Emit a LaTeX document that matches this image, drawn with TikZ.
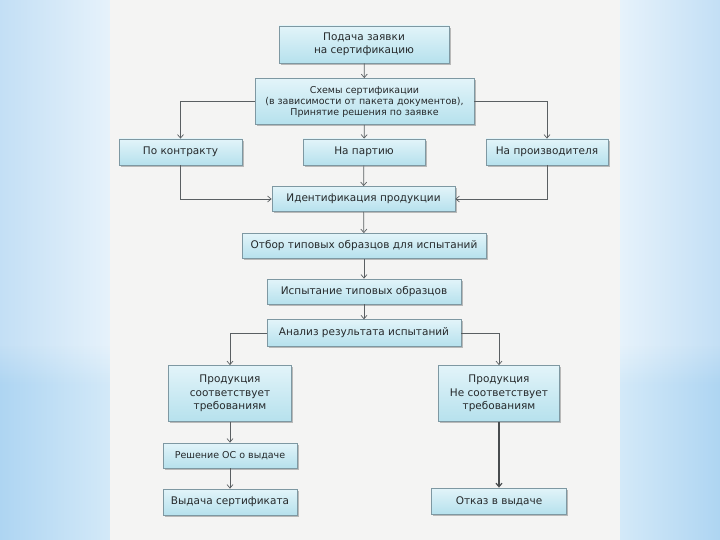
\documentclass[tikz,border=0pt]{standalone}
\usepackage{fontspec}
\setmainfont{DejaVu Sans}
\usetikzlibrary{arrows.meta,shadows,fadings}
\definecolor{panel}{HTML}{F4F4F3}
\definecolor{sideout}{HTML}{C3DFF5}
\definecolor{sidein}{HTML}{E6F2FB}
\definecolor{sideoutlow}{HTML}{AED5F2}
\definecolor{sideinlow}{HTML}{D3E9F8}
\definecolor{boxtop}{HTML}{E2F4F9}
\definecolor{boxbot}{HTML}{B6E1ED}
\definecolor{boxline}{HTML}{7E98A2}
\definecolor{conn}{HTML}{5A5F62}
\definecolor{txt}{HTML}{25292B}
\tikzfading[name=bandfade, top color=transparent!100, bottom color=transparent!0]
\tikzset{
  flowbox/.style={draw=boxline, line width=0.8pt, top color=boxtop, bottom color=boxbot,
    drop shadow={shadow xshift=1.6pt, shadow yshift=-1.6pt, opacity=0.35, fill=black!70},
    align=center, inner sep=1pt, text=txt, font=\fontsize{10.5}{13.3}\selectfont,
    minimum width=#1},
  flowbox/.default=122pt,
  smalltext/.style={font=\fontsize{9.5}{11}\selectfont},
  conn/.style={draw=conn, line width=0.7pt, -{Straight Barb[length=3.5pt,width=6pt]}},
  thickconn/.style={draw=conn!80!black, line width=1.2pt, -{Straight Barb[length=3.5pt,width=6pt]}}
}
\begin{document}
\begin{tikzpicture}[x=1pt,y=-1pt]
\useasboundingbox (0,0) rectangle (720,540);
% background
\shade[left color=sideout, right color=sidein] (0,0) rectangle (110,540);
\shade[left color=sidein, right color=sideout] (620,0) rectangle (720,540);
\shade[left color=sideoutlow, right color=sideinlow] (0,385) rectangle (110,540);
\shade[left color=sideinlow, right color=sideoutlow] (620,385) rectangle (720,540);
\shade[left color=sideoutlow, right color=sideinlow, path fading=bandfade] (0,345) rectangle (110,385.5);
\shade[left color=sideinlow, right color=sideoutlow, path fading=bandfade] (620,345) rectangle (720,385.5);
\fill[panel] (110,0) rectangle (620,540);

% nodes
\node[flowbox=170pt, minimum height=37pt] (b1) at (364,44.5) {Подача заявки\\на сертификацию};
\node[flowbox=219pt, minimum height=46pt, smalltext] (b2) at (364.5,101.5) {Схемы сертификации\\(в зависимости от пакета документов),\\Принятие решения по заявке};
\node[flowbox=123pt, minimum height=26pt] (k1) at (180.5,152) {По контракту};
\node[flowbox=122pt, minimum height=26pt] (k2) at (364,152) {На партию};
\node[flowbox=122pt, minimum height=26pt] (k3) at (547,152) {На производителя};
\node[flowbox=183pt, minimum height=25pt] (id) at (363.5,199) {Идентификация продукции};
\node[flowbox=244pt, minimum height=25pt] (ot) at (364,246) {Отбор типовых образцов для испытаний};
\node[flowbox=194pt, minimum height=25pt] (isp) at (364,291.5) {Испытание типовых образцов};
\node[flowbox=194pt, minimum height=26.5pt] (an) at (364,333) {Анализ результата испытаний};
\node[flowbox=123pt, minimum height=56pt] (ps) at (230,393.5) {Продукция\\соответствует\\требованиям};
\node[flowbox=121pt, minimum height=56pt] (pn) at (499,393.5) {Продукция\\Не соответствует\\требованиям};
\node[flowbox=134pt, minimum height=25pt, smalltext] (rs) at (230,455.5) {Решение ОС о выдаче};
\node[flowbox=134pt, minimum height=26pt] (vs) at (230,502) {Выдача сертификата};
\node[flowbox=135pt, minimum height=26pt] (ok) at (499,501) {Отказ в выдаче};

% connectors
\draw[conn] (b1) -- (b2);
\draw[conn] (b2.west) -| (k1.north);
\draw[conn] (b2) -- (k2);
\draw[conn] (b2.east) -| (k3.north);
\draw[conn] (k1.south) |- (id.west);
\draw[conn] (k2) -- (id);
\draw[conn] (k3.south) |- (id.east);
\draw[conn] (id) -- (ot);
\draw[conn] (ot) -- (isp);
\draw[conn] (isp) -- (an);
\draw[conn] (an.west) -| (ps.north);
\draw[conn] (an.east) -| (pn.north);
\draw[conn] (ps) -- (rs);
\draw[conn] (rs) -- (vs);
\draw[thickconn] (pn) -- (ok);
\end{tikzpicture}
\end{document}
